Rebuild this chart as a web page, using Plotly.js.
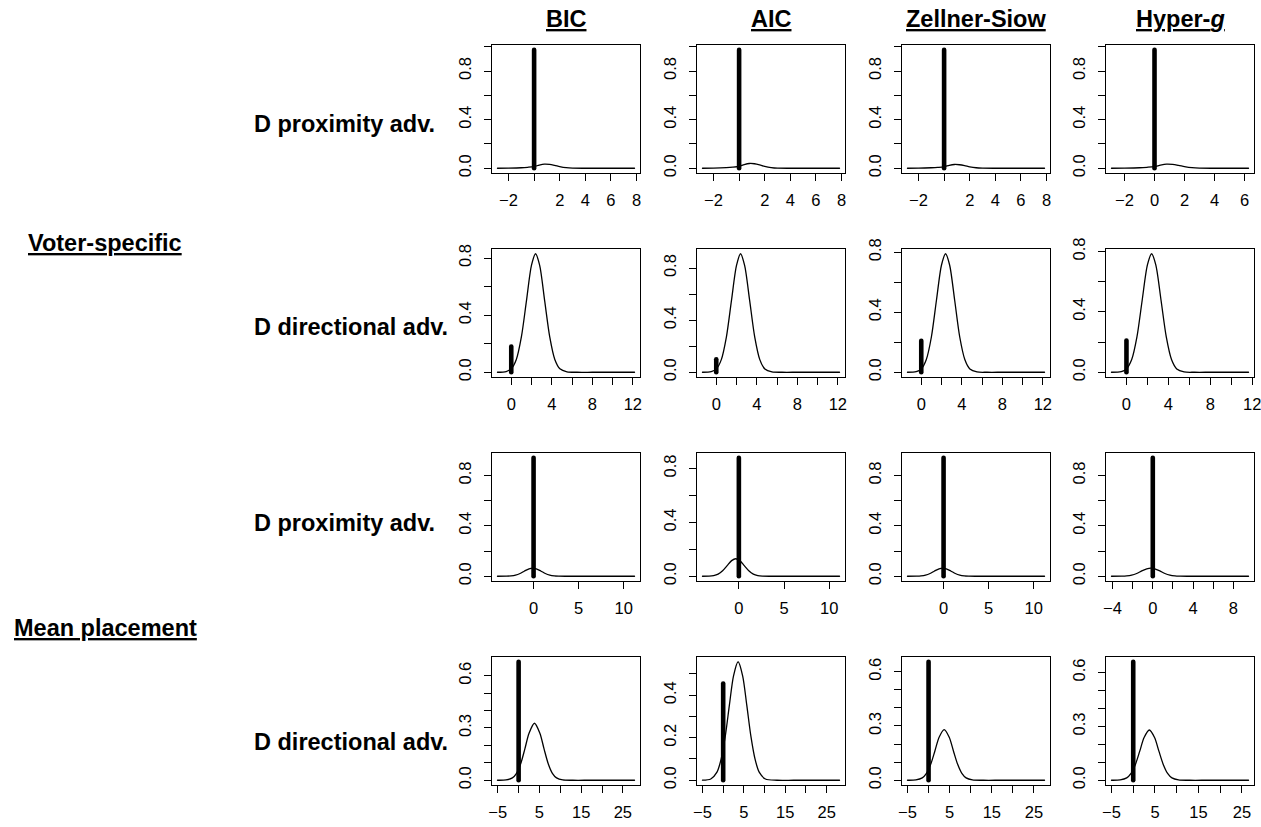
<!DOCTYPE html>
<html><head><meta charset="utf-8">
<script src="https://cdn.plot.ly/plotly-3.0.1.min.js"></script>
<style>
html,body{margin:0;padding:0;background:#fff;}
#chart{width:1261px;height:827px;}
path.js-line{stroke-linecap:round;}
</style></head><body><div id="chart"></div>
<script>
// ---- labels ----
const priors = ["BIC", "AIC", "Zellner-Siow", "Hyper-<i>g</i>"];
const groups = ["Voter-specific", "Mean placement"];
const rowLabels = ["D proximity adv.", "D directional adv.", "D proximity adv.", "D directional adv."];

// ---- Row 1: Voter-specific, D proximity adv. ----
const r1_x    = [-2.86, -2, -1, -0.5, 0, 0.4, 0.8, 1.2, 1.6, 2, 2.5, 3, 4, 5, 6, 7, 7.84];
const r1_x_hg = [-2.87, -2, -1, -0.5, 0, 0.4, 0.8, 1.2, 1.6, 2, 2.5, 3, 4, 5, 6.27];
const r1_bic = [0, 0.001, 0.004, 0.008, 0.014, 0.026, 0.034, 0.032, 0.024, 0.014, 0.005, 0.001, 0, 0, 0, 0, 0];
const r1_aic = [0, 0.001, 0.005, 0.009, 0.016, 0.030, 0.039, 0.037, 0.028, 0.016, 0.006, 0.001, 0, 0, 0, 0, 0];
const r1_zs  = [0, 0.001, 0.004, 0.007, 0.012, 0.024, 0.031, 0.029, 0.022, 0.012, 0.004, 0.001, 0, 0, 0, 0, 0];
const r1_hg  = [0, 0.001, 0.004, 0.008, 0.014, 0.026, 0.034, 0.032, 0.024, 0.014, 0.005, 0.001, 0, 0, 0];
const r1_spike = [0.975, 0.975, 0.975, 0.975];

// ---- Row 2: Voter-specific, D directional adv. ----
const r2_x    = [-1.36, -0.5, 0, 0.5, 1, 1.5, 2, 2.4, 2.8, 3.3, 3.8, 4.3, 4.8, 5.5, 6.5, 8, 10, 12.17];
const r2_x_hg = [-1.43, -0.5, 0, 0.5, 1, 1.5, 2, 2.4, 2.8, 3.3, 3.8, 4.3, 4.8, 5.5, 6.5, 8, 10, 11.65];
const r2_bic = [0, 0.005, 0.024, 0.089, 0.247, 0.50, 0.75, 0.83, 0.75, 0.50, 0.247, 0.089, 0.024, 0.003, 0, 0, 0, 0];
const r2_aic = [0, 0.005, 0.025, 0.097, 0.27, 0.55, 0.82, 0.91, 0.82, 0.55, 0.27, 0.097, 0.025, 0.003, 0, 0, 0, 0];
const r2_zs  = [0, 0.004, 0.022, 0.085, 0.235, 0.48, 0.715, 0.79, 0.715, 0.48, 0.235, 0.085, 0.022, 0.002, 0, 0, 0, 0];
const r2_hg  = [0, 0.004, 0.022, 0.084, 0.234, 0.477, 0.711, 0.785, 0.711, 0.477, 0.234, 0.084, 0.022, 0.002, 0, 0, 0, 0];
const r2_spike = [0.18, 0.10, 0.21, 0.21];

// ---- Row 3: Mean placement, D proximity adv. ----
const r3_x     = [-4.0, -3.0, -2.5, -2.0, -1.5, -1.0, -0.5, -0.1, 0.3, 0.8, 1.3, 1.8, 2.3, 2.8, 3.5, 5, 7, 9, 11.19];
const r3_x_aic = [-4.03, -3.3, -2.8, -2.3, -1.8, -1.3, -0.8, -0.35, 0.1, 0.6, 1.1, 1.6, 2.1, 2.6, 3.5, 5, 7, 9, 11.15];
const r3_x_hg  = [-4.1, -3.1, -2.6, -2.1, -1.6, -1.1, -0.6, -0.2, 0.2, 0.7, 1.2, 1.7, 2.2, 2.7, 3.4, 5, 7, 8.5, 9.5];
const r3_bic = [0, 0.0006, 0.0027, 0.0088, 0.022, 0.042, 0.059, 0.065, 0.059, 0.042, 0.022, 0.0088, 0.0027, 0.0006, 0, 0, 0, 0, 0];
const r3_aic = [0, 0.001, 0.005, 0.016, 0.041, 0.079, 0.116, 0.13, 0.116, 0.079, 0.041, 0.016, 0.005, 0.001, 0, 0, 0, 0, 0];
const r3_zs  = [0, 0.0006, 0.0027, 0.0088, 0.022, 0.042, 0.059, 0.065, 0.059, 0.042, 0.022, 0.0088, 0.0027, 0.0006, 0, 0, 0, 0, 0];
const r3_hg  = [0, 0.0006, 0.0027, 0.0088, 0.022, 0.042, 0.059, 0.065, 0.059, 0.042, 0.022, 0.0088, 0.0027, 0.0006, 0, 0, 0, 0, 0];
const r3_spike = [0.94, 0.88, 0.94, 0.94];

// ---- Row 4: Mean placement, D directional adv. ----
const r4_x_bic = [-5.07, -3, -1.5, -0.5, 0.5, 1.5, 2.5, 3.8, 5.1, 6.1, 7.1, 8.1, 9.1, 10.6, 13, 17, 22, 27.8];
const r4_x_aic = [-5, -3, -1.5, -0.5, 0.5, 1.5, 2.5, 3.6, 4.7, 5.7, 6.7, 7.7, 8.7, 10.2, 13, 17, 22, 28.1];
const r4_x_zs  = [-5, -3, -1.5, -0.5, 0.5, 1.5, 2.5, 3.7, 4.9, 5.9, 6.9, 7.9, 8.9, 10.4, 13, 17, 22, 27.5];
const r4_x_hg  = [-5, -3, -1.5, -0.5, 0.5, 1.5, 2.5, 3.7, 4.9, 5.9, 6.9, 7.9, 8.9, 10.4, 13, 17, 22, 26.5];
const r4_bic = [0, 0.0017, 0.0136, 0.040, 0.095, 0.18, 0.27, 0.327, 0.27, 0.18, 0.095, 0.040, 0.0136, 0.0017, 0, 0, 0, 0];
const r4_aic = [0.0003, 0.006, 0.038, 0.099, 0.206, 0.353, 0.491, 0.557, 0.491, 0.353, 0.206, 0.099, 0.038, 0.006, 0, 0, 0, 0];
const r4_zs  = [0, 0.0017, 0.013, 0.038, 0.088, 0.162, 0.238, 0.28, 0.238, 0.162, 0.088, 0.038, 0.013, 0.0017, 0, 0, 0, 0];
const r4_hg  = [0, 0.0017, 0.013, 0.038, 0.088, 0.162, 0.238, 0.28, 0.238, 0.162, 0.088, 0.038, 0.013, 0.0017, 0, 0, 0, 0];
const r4_spike = [0.68, 0.455, 0.655, 0.66];

// ---- tick values / labels ----
const xt_r1 = [-2, 0, 2, 4, 6, 8];          const xl_r1 = ["\u22122", " ", "2", "4", "6", "8"];
const xt_r1hg = [-2, 0, 2, 4, 6];           const xl_r1hg = ["\u22122", "0", "2", "4", "6"];
const xt_r2 = [0, 2, 4, 6, 8, 10, 12];      const xl_r2 = ["0", " ", "4", " ", "8", " ", "12"];
const xt_r3 = [0, 5, 10];                   const xl_r3 = ["0", "5", "10"];
const xt_r3hg = [-4, -2, 0, 2, 4, 6, 8];    const xl_r3hg = ["\u22124", " ", "0", " ", "4", " ", "8"];
const xt_r4 = [-5, 0, 5, 10, 15, 20, 25];   const xl_r4 = ["\u22125", " ", "5", " ", "15", " ", "25"];
const yt_10 = [0, 0.2, 0.4, 0.6, 0.8, 1.0]; const yl_10 = ["0.0", " ", "0.4", " ", "0.8", " "];
const yt_08 = [0, 0.2, 0.4, 0.6, 0.8];      const yl_08 = ["0.0", " ", "0.4", " ", "0.8"];
const yt_06 = [0, 0.1, 0.2, 0.3, 0.4, 0.5, 0.6]; const yl_06 = ["0.0", " ", " ", "0.3", " ", " ", "0.6"];
const yt_05 = [0, 0.1, 0.2, 0.3, 0.4, 0.5]; const yl_05 = ["0.0", " ", "0.2", " ", "0.4", " "];

const panels = [
  [[r1_x, r1_bic, r1_spike[0], xt_r1, xl_r1, yt_10, yl_10],
   [r1_x, r1_aic, r1_spike[1], xt_r1, xl_r1, yt_10, yl_10],
   [r1_x, r1_zs,  r1_spike[2], xt_r1, xl_r1, yt_10, yl_10],
   [r1_x_hg, r1_hg, r1_spike[3], xt_r1hg, xl_r1hg, yt_10, yl_10]],
  [[r2_x, r2_bic, r2_spike[0], xt_r2, xl_r2, yt_08, yl_08],
   [r2_x, r2_aic, r2_spike[1], xt_r2, xl_r2, yt_08, yl_08],
   [r2_x, r2_zs,  r2_spike[2], xt_r2, xl_r2, yt_08, yl_08],
   [r2_x_hg, r2_hg, r2_spike[3], xt_r2, xl_r2, yt_08, yl_08]],
  [[r3_x, r3_bic, r3_spike[0], xt_r3, xl_r3, yt_08, yl_08],
   [r3_x_aic, r3_aic, r3_spike[1], xt_r3, xl_r3, yt_08, yl_08],
   [r3_x, r3_zs,  r3_spike[2], xt_r3, xl_r3, yt_08, yl_08],
   [r3_x_hg, r3_hg, r3_spike[3], xt_r3hg, xl_r3hg, yt_08, yl_08]],
  [[r4_x_bic, r4_bic, r4_spike[0], xt_r4, xl_r4, yt_06, yl_06],
   [r4_x_aic, r4_aic, r4_spike[1], xt_r4, xl_r4, yt_05, yl_05],
   [r4_x_zs,  r4_zs,  r4_spike[2], xt_r4, xl_r4, yt_06, yl_06],
   [r4_x_hg,  r4_hg,  r4_spike[3], xt_r4, xl_r4, yt_06, yl_06]]
];

// ---- layout geometry ----
const W = 1261, H = 827;
const colLeft = [492, 697, 902, 1106], boxW = 148;
const rowTop = [45, 249, 453, 657], boxH = 128;
const FONT = "Liberation Sans, Arial, Helvetica, sans-serif";

const traces = [];
const layout = {
  width: W, height: H,
  margin: {l: 0, r: 0, t: 0, b: 0},
  paper_bgcolor: "#fff", plot_bgcolor: "#fff",
  showlegend: false,
  font: {family: FONT, color: "#000"},
  annotations: []
};

function rRange(lo, hi) { const e = 0.04 * (hi - lo); return [lo - e, hi + e]; }

panels.forEach((row, r) => {
  row.forEach((p, c) => {
    const [xs, ys, spike, xt, xl, yt, yl] = p;
    const n = r * 4 + c + 1;
    const xa = n === 1 ? "x" : "x" + n, ya = n === 1 ? "y" : "y" + n;
    const xk = n === 1 ? "xaxis" : "xaxis" + n, yk = n === 1 ? "yaxis" : "yaxis" + n;
    traces.push({x: xs, y: ys, xaxis: xa, yaxis: ya, type: "scatter", mode: "lines",
      line: {color: "#000", width: 1.3, shape: "spline", smoothing: 0.8}, hoverinfo: "skip"});
    traces.push({x: [0, 0], y: [0, spike], xaxis: xa, yaxis: ya, type: "scatter", mode: "lines",
      line: {color: "#000", width: 4.6}, hoverinfo: "skip"});
    const ymax = Math.max(spike, Math.max(...ys));
    const common = {showline: true, mirror: true, linecolor: "#000", linewidth: 1,
      ticks: "outside", ticklen: 7, tickwidth: 1, tickcolor: "#000",
      showgrid: false, zeroline: false, tickmode: "array", fixedrange: true,
      ticklabeloverflow: "allow",
      tickfont: {family: FONT, size: 16.5, color: "#000"}};
    layout[xk] = Object.assign({}, common, {
      domain: [colLeft[c] / W, (colLeft[c] + boxW) / W],
      range: rRange(Math.min(...xs), Math.max(...xs)),
      tickvals: xt, ticktext: xl, anchor: ya, ticklabelstandoff: 5});
    layout[yk] = Object.assign({}, common, {
      domain: [1 - (rowTop[r] + boxH) / H, 1 - rowTop[r] / H],
      range: rRange(0, ymax),
      tickvals: yt, ticktext: yl, anchor: xa, tickangle: -90, ticklabelstandoff: 6});
  });
});

const boldU = {family: FONT, size: 23.5, color: "#000", weight: "bold", lineposition: "under"};
const bold = {family: FONT, size: 23.5, color: "#000", weight: "bold"};
priors.forEach((t, c) => {
  layout.annotations.push({text: t, xref: "paper", yref: "paper", showarrow: false,
    x: (colLeft[c] + boxW / 2) / W, y: 1 - 19 / H, xanchor: "center", yanchor: "middle", font: boldU});
});
const groupY = [243, 628];
groups.forEach((t, g) => {
  layout.annotations.push({text: t, xref: "paper", yref: "paper", showarrow: false,
    x: 105 / W, y: 1 - groupY[g] / H, xanchor: "center", yanchor: "middle", font: boldU});
});
const labelY = [124, 327, 523, 742];
rowLabels.forEach((t, r) => {
  layout.annotations.push({text: t, xref: "paper", yref: "paper", showarrow: false,
    x: 252 / W, y: 1 - labelY[r] / H, xanchor: "left", yanchor: "middle", font: bold});
});

Plotly.newPlot("chart", traces, layout, {staticPlot: true, displayModeBar: false});
</script></body></html>
